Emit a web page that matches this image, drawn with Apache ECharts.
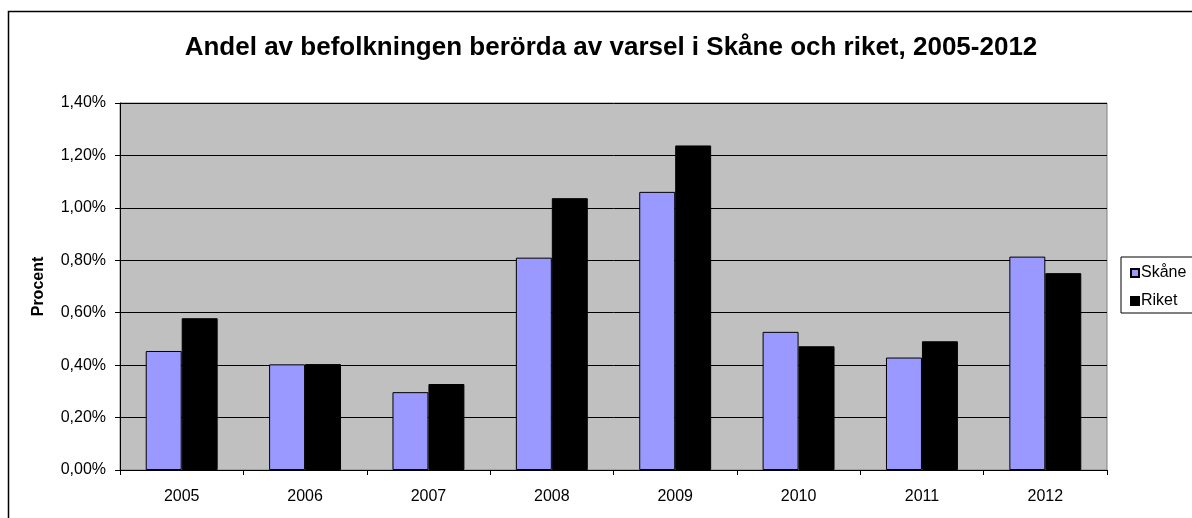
<!DOCTYPE html>
<html>
<head>
<meta charset="utf-8">
<script src="https://cdn.jsdelivr.net/npm/echarts@6/dist/echarts.min.js"></script>
<style>
html,body{margin:0;padding:0;overflow:hidden;background:#fff;}
#chart{width:1240px;height:540px;}
</style>
</head>
<body>
<div id="chart"></div>
<script>
const categories = ['2005','2006','2007','2008','2009','2010','2011','2012'];
const skane = [0.454, 0.403, 0.297, 0.810, 1.061, 0.527, 0.429, 0.814];
const riket = [0.579, 0.404, 0.328, 1.037, 1.238, 0.472, 0.491, 0.751];
const seriesNames = ['Skåne', 'Riket'];
const yTicks = { min: 0, max: 1.4, interval: 0.2 };

const font = '"Liberation Sans", Arial, sans-serif';
const chart = echarts.init(document.getElementById('chart'), null, { renderer: 'canvas' });
chart.setOption({
  animation: false,
  backgroundColor: '#fff',
  textStyle: { fontFamily: font },
  title: {
    text: 'Andel av befolkningen berörda av varsel i Skåne och riket, 2005-2012',
    left: 606, top: 30, textAlign: 'center',
    textStyle: { fontFamily: font, fontSize: 26, fontWeight: 'bold', color: '#000' }
  },
  graphic: [{
    type: 'rect', silent: true, z: -10,
    shape: { x: 8.5, y: 11.5, width: 1300, height: 600 },
    style: { fill: 'none', stroke: '#000', lineWidth: 1.5 }
  }],
  legend: {
    data: seriesNames,
    orient: 'vertical',
    left: 1121, top: 257,
    padding: [8, 40, 4, 9],
    itemWidth: 8, itemHeight: 8,
    itemGap: 12,
    icon: 'rect',
    borderColor: '#000', borderWidth: 1,
    backgroundColor: '#fff',
    textStyle: { fontFamily: font, fontSize: 16, color: '#000', padding: [0, 0, 0, -3] }
  },
  grid: {
    left: 120, top: 103, width: 987, height: 367,
    show: true, backgroundColor: '#C0C0C0', borderColor: '#808080', borderWidth: 1,
    containLabel: false
  },
  xAxis: {
    type: 'category',
    data: categories,
    axisLine: { lineStyle: { color: '#000', width: 1 } },
    axisTick: { show: true, length: 5, lineStyle: { color: '#000' } },
    axisLabel: { fontFamily: font, fontSize: 16, color: '#000', margin: 19 }
  },
  yAxis: {
    type: 'value',
    min: yTicks.min, max: yTicks.max, interval: yTicks.interval,
    name: 'Procent',
    nameLocation: 'middle',
    nameGap: 73,
    nameTextStyle: { fontFamily: font, fontSize: 16, fontWeight: 'bold', color: '#000' },
    axisLine: { show: true, lineStyle: { color: '#000', width: 1 } },
    axisTick: { show: true, length: 5, lineStyle: { color: '#000' } },
    splitLine: { show: true, lineStyle: { color: '#000', width: 1 } },
    axisLabel: {
      fontFamily: font, fontSize: 16, color: '#000', margin: 14,
      formatter: v => v.toFixed(2).replace('.', ',') + '%'
    }
  },
  series: [
    {
      name: seriesNames[0], type: 'bar', data: skane,
      barGap: '0%', barCategoryGap: '41.7%',
      itemStyle: { color: '#9999FF', borderColor: '#000', borderWidth: 1 }
    },
    {
      name: seriesNames[1], type: 'bar', data: riket,
      barGap: '0%', barCategoryGap: '41.7%',
      itemStyle: { color: '#000000', borderColor: '#000', borderWidth: 1 }
    }
  ]
});
</script>
</body>
</html>
